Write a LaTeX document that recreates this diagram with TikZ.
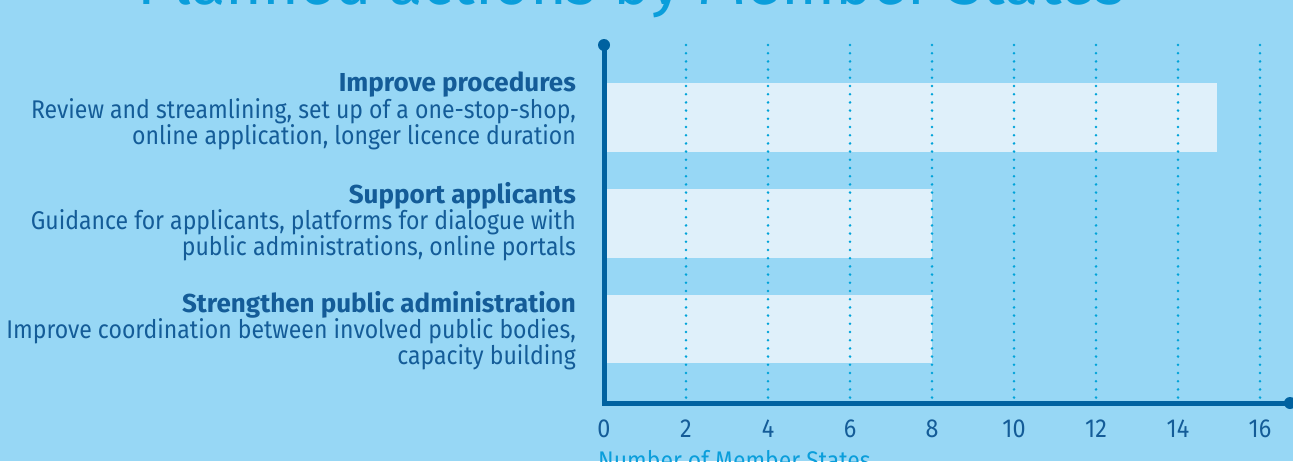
\documentclass[tikz,border=0pt]{standalone}
\usepackage{fontspec}
\setmainfont{Fira Sans}
\newfontfamily\narrowfont{Fira Sans}[FakeStretch=0.9]
\definecolor{bgblue}{HTML}{97D7F5}
\definecolor{barblue}{HTML}{DFF0FA}
\definecolor{axisblue}{HTML}{0062A0}
\definecolor{dotcyan}{HTML}{00A3D9}
\definecolor{txtblue}{HTML}{145C98}
\definecolor{titlecyan}{HTML}{0A9EDB}
\begin{document}
\begin{tikzpicture}[x=1pt,y=-1pt,
  bar/.style={fill=barblue,draw=none},
  gridline/.style={dotcyan,line width=2.8pt,line cap=round,dash pattern=on 0pt off 8.2pt},
  axisline/.style={axisblue,line width=5pt},
  axisdot/.style={circle,fill=axisblue,inner sep=0pt,minimum size=12pt},
  headtxt/.style={anchor=base east,inner sep=0pt,text=txtblue,font=\fontsize{26}{30}\selectfont\bfseries},
  bodytxt/.style={anchor=base east,inner sep=0pt,text=txtblue,font=\narrowfont\fontsize{25.6}{30}\selectfont},
  ticktxt/.style={anchor=base,inner sep=0pt,text=txtblue,font=\narrowfont\fontsize{26}{30}\selectfont}]
\useasboundingbox (0,0) rectangle (1293,461);
\fill[bgblue] (0,0) rectangle (1293,461);
% title
\node[anchor=base,inner sep=0pt,text=titlecyan,font=\fontsize{63}{70}\selectfont] (title) at (631,4) {Planned actions by Member States};
% bars
\fill[bar] (606,83) rectangle (1217,152);
\fill[bar] (606,189) rectangle (932,258);
\fill[bar] (606,295) rectangle (932,363);
% grid
\foreach \v in {2,4,...,16}{
  \draw[gridline] ({604+41*\v},45) -- ({604+41*\v},400);
}
% axes
\node[axisdot] (top) at (604,45) {};
\node[axisdot] (right) at (1290,403) {};
\coordinate (origin) at (604,403);
\draw[axisline,line cap=butt] (top.center) -- (origin) -- (right.center);
% ticks
\foreach \v in {0,2,...,16}{
  \node[ticktxt] (t\v) at ({604+41*\v},437) {\v};
}
\node[anchor=base west,inner sep=0pt,text=titlecyan,font=\narrowfont\fontsize{25.5}{28}\selectfont] (xlabel) at (598,469) {Number of Member States};
% labels
\node[headtxt] (h1) at (576,91) {Improve procedures};
\node[bodytxt] (b1a) at (576,118) {Review and streamlining, set up of a one-stop-shop,};
\node[bodytxt] (b1b) at (576,144) {online application, longer licence duration};
\node[headtxt] (h2) at (576,203) {Support applicants};
\node[bodytxt] (b2a) at (576,229) {Guidance for applicants, platforms for dialogue with};
\node[bodytxt] (b2b) at (576,255) {public administrations, online portals};
\node[headtxt] (h3) at (576,312) {Strengthen public administration};
\node[bodytxt] (b3a) at (576,338) {Improve coordination between involved public bodies,};
\node[bodytxt] (b3b) at (576,364) {capacity building};
\end{tikzpicture}
\end{document}
